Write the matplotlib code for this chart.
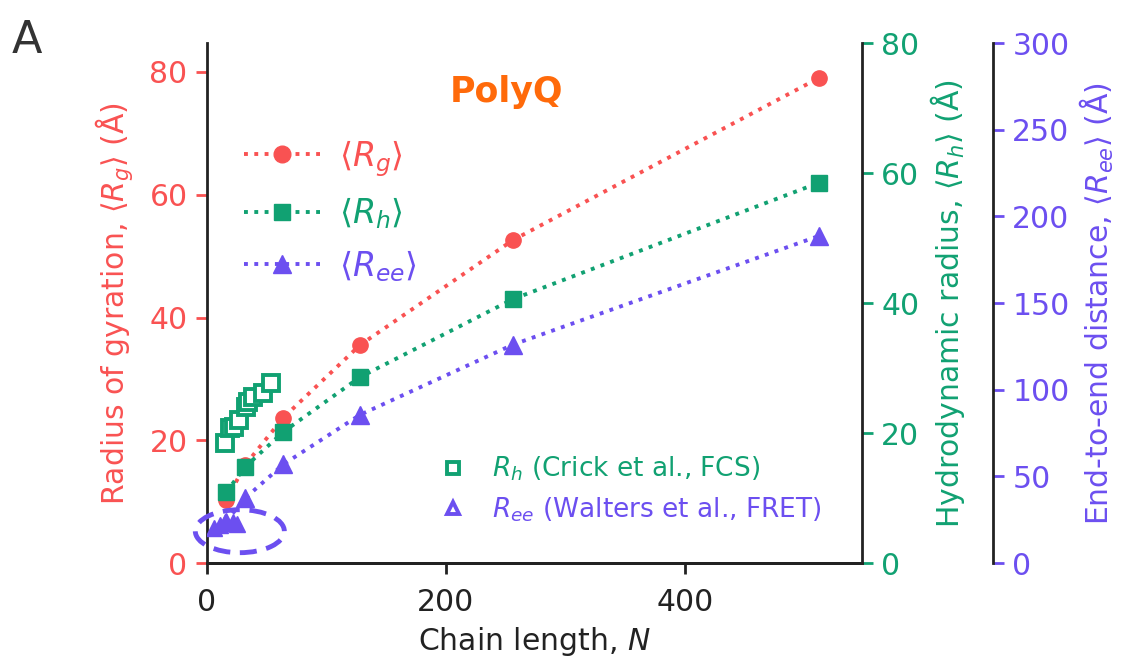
import numpy as np
import matplotlib
matplotlib.use("Agg")
import matplotlib.pyplot as plt
from matplotlib.patches import Ellipse
from matplotlib.lines import Line2D

# simulated chain lengths and averages
chain_n = [16, 32, 64, 128, 256, 512]
rg_sim = [10.2, 16.0, 23.7, 35.5, 52.6, 79.0]
rh_sim = [10.9, 14.8, 20.2, 28.6, 40.6, 58.5]
ree_sim = [24.0, 37.5, 57.0, 85.5, 126.0, 188.7]

# experiments
crick_n = [15, 19, 23, 27, 33, 34, 38.5, 47, 54]
crick_rh = [18.5, 20.8, 20.9, 22.0, 24.0, 24.8, 25.5, 26.2, 27.7]
walters_n = [6, 11, 15, 22, 25]
walters_ree = [20.5, 22.0, 23.5, 24.0, 22.5]

red = "#f95252"
green = "#11a172"
purple = "#6c4ff0"
orange = "#ff6a0a"

plt.rcParams["font.family"] = "DejaVu Sans"
plt.rcParams["mathtext.fontset"] = "dejavusans"

fig = plt.figure(figsize=(11.34, 6.68), dpi=100)
ax = fig.add_axes([0.1825, 0.157, 0.5775, 0.7786])
ax2 = ax.twinx()
ax3 = ax.twinx()
ax3.spines["right"].set_position(("axes", 1.2))

for a in (ax, ax2, ax3):
    a.spines["top"].set_visible(False)
    for s in a.spines.values():
        s.set_linewidth(2)
        s.set_color("#222222")
ax2.spines["left"].set_visible(False)
ax3.spines["left"].set_visible(False)
ax.spines["right"].set_visible(False)

ms = 11
ax.plot(chain_n, rg_sim, ":", color=red, lw=2.8, marker="o", ms=ms)
ax2.plot(chain_n, rh_sim, ":", color=green, lw=2.8, marker="s", ms=ms)
ax3.plot(chain_n, ree_sim, ":", color=purple, lw=2.8, marker="^", ms=ms + 2)

ax2.plot(crick_n, crick_rh, "s", ms=11, mfc="white", mec=green, mew=2.8, ls="none")
ax3.plot(walters_n, walters_ree, "^", ms=11, color=purple, ls="none")

ell = Ellipse((27.5, 5.2), 74.5, 7.0, transform=ax.transData, fill=False,
              ec=purple, lw=3.5, ls=(0, (3.5, 2)), clip_on=False, zorder=5)
ax.add_patch(ell)

ax.set_xlim(0, 548)
ax.set_ylim(0, 84.7)
ax2.set_ylim(0, 80)
ax3.set_ylim(0, 300)
ax.set_xticks([0, 200, 400])
ax.set_yticks([0, 20, 40, 60, 80])
ax2.set_yticks([0, 20, 40, 60, 80])
ax3.set_yticks([0, 50, 100, 150, 200, 250, 300])

fs = 21.5
ax.tick_params(axis="x", labelsize=fs, length=8, width=2, colors="#222222", pad=10)
ax.tick_params(axis="y", labelsize=fs, length=8, width=2, colors=red, pad=6)
ax2.tick_params(axis="y", labelsize=fs, length=8, width=2, colors=green, pad=6)
ax3.tick_params(axis="y", labelsize=fs, length=8, width=2, colors=purple, pad=6)

ax.set_xlabel(r"Chain length, $N$", fontsize=fs, color="#222222", labelpad=6)
ax.set_ylabel(r"Radius of gyration, $\langle R_g\rangle$ (Å)", fontsize=fs, color=red,
              labelpad=10)
ax2.set_ylabel(r"Hydrodynamic radius, $\langle R_h\rangle$ (Å)", fontsize=fs,
               color=green, labelpad=6)
ax3.set_ylabel(r"End-to-end distance, $\langle R_{ee}\rangle$ (Å)", fontsize=fs,
               color=purple, labelpad=6)

ax3.text(0.458, 0.905, "PolyQ", transform=ax.transAxes, ha="center", va="center",
         fontsize=25, fontweight="bold", color=orange)
fig.text(0.01, 0.94, "A", fontsize=32, color="#333333", va="center")

h1 = [Line2D([], [], ls=":", lw=2.8, color=red, marker="o", ms=ms + 1),
      Line2D([], [], ls=":", lw=2.8, color=green, marker="s", ms=ms + 1),
      Line2D([], [], ls=":", lw=2.8, color=purple, marker="^", ms=ms + 2)]
leg1 = ax3.legend(h1, [r"$\langle R_g\rangle$", r"$\langle R_h\rangle$",
                       r"$\langle R_{ee}\rangle$"],
                  loc="upper left", bbox_to_anchor=(0.01, 0.875), frameon=False,
                  fontsize=24, handlelength=2.3, labelspacing=0.5, numpoints=1,
                  handletextpad=0.55)
for t, c in zip(leg1.get_texts(), [red, green, purple]):
    t.set_color(c)
ax3.add_artist(leg1)

h2 = [Line2D([], [], ls="none", marker="s", ms=9, mfc="white", mec=green, mew=2.8),
      Line2D([], [], ls="none", marker="^", ms=9, mfc="white", mec=purple, mew=2.8)]
leg2 = ax3.legend(h2, [r"$R_h$ (Crick et al., FCS)", r"$R_{ee}$ (Walters et al., FRET)"],
                  loc="lower right", bbox_to_anchor=(0.975, 0.03), frameon=False,
                  fontsize=19, handlelength=1.0, labelspacing=0.45, handletextpad=1.0)
for t, c in zip(leg2.get_texts(), [green, purple]):
    t.set_color(c)

fig.savefig("out.png", dpi=100)
